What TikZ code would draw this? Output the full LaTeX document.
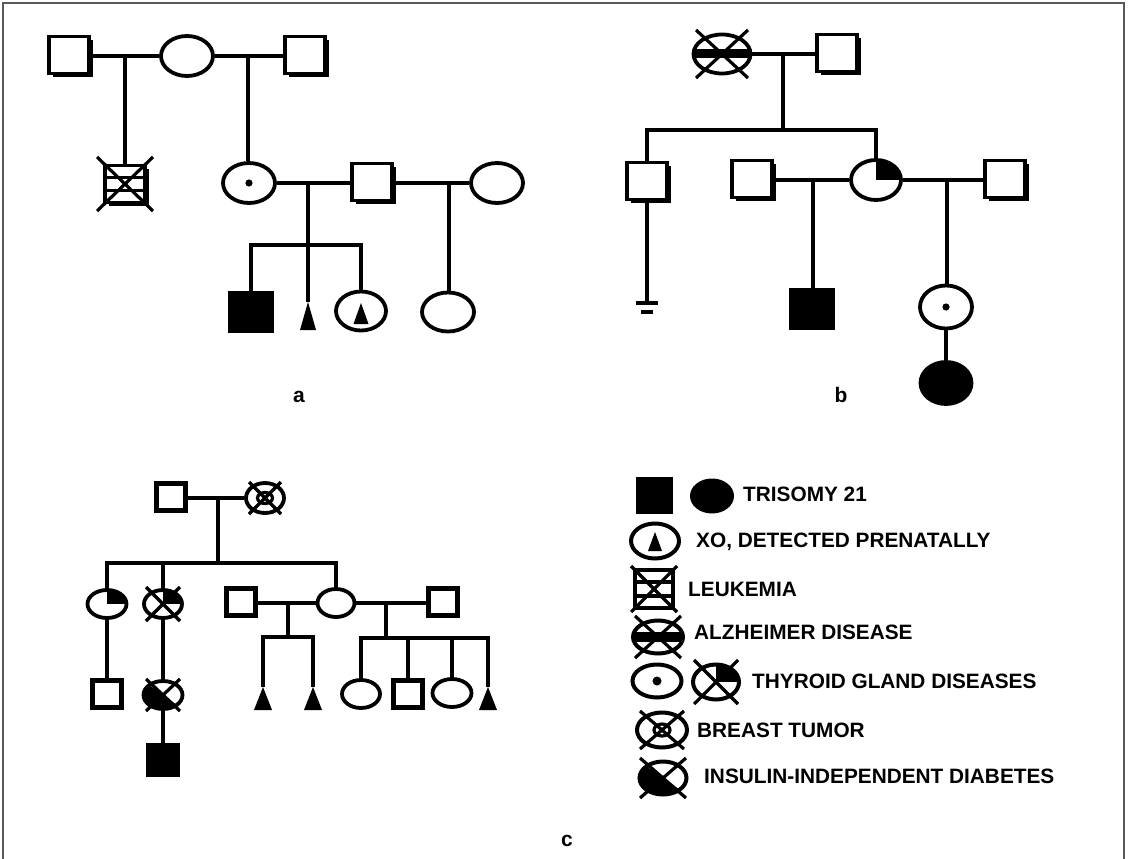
\documentclass[tikz,border=0pt]{standalone}
\usepackage{fontspec}
\setmainfont{Liberation Sans}
\usetikzlibrary{shapes.geometric,shadows,calc}
\newcommand\xcr[3]{\draw[xl] ($(#1)+(-#2,-#3)$) -- ($(#1)+(#2,#3)$); \draw[xl] ($(#1)+(#2,-#3)$) -- ($(#1)+(-#2,#3)$);}
\begin{document}
\begin{tikzpicture}[x=1pt,y=-1pt,
  ln/.style={line width=3.4pt},
  lnc/.style={line width=3.6pt},
  xl/.style={line width=3.2pt},
  sqbase/.style={rectangle,draw,fill=white,line width=3.6pt,inner sep=0pt},
  shad/.style={drop shadow={shadow xshift=3.5pt,shadow yshift=-3.5pt,fill=black,opacity=1}},
  sqA/.style={sqbase,shad,minimum width=40pt,minimum height=37pt},
  sqAf/.style={sqbase,fill=black,minimum width=42pt,minimum height=39pt},
  sqC/.style={sqbase,line width=4.2pt,drop shadow={shadow xshift=2pt,shadow yshift=-2pt,fill=black,opacity=1},minimum width=29pt,minimum height=27pt},
  sqCf/.style={sqbase,fill=black,minimum width=30pt,minimum height=30pt},
  elbase/.style={ellipse,draw,fill=white,line width=3.8pt,inner sep=0pt},
  elA/.style={elbase,minimum width=52pt,minimum height=40pt},
  elC/.style={elbase,line width=3.8pt,minimum width=37pt,minimum height=28pt},
  elL/.style={elbase,line width=4pt},
  filled/.style={fill=black},
  quarter/.style={path picture={\fill[black] (path picture bounding box.center) rectangle (path picture bounding box.north east);}},
  halfdiag/.style={path picture={\fill[black] (path picture bounding box.north west) -- (path picture bounding box.south west) -- (path picture bounding box.south east) -- cycle;}},
  band/.style={path picture={\fill[black] ([yshift=-#1]path picture bounding box.west) rectangle ([yshift=#1]path picture bounding box.east);}},
  lbl/.style={font=\fontsize{21}{24}\selectfont\bfseries,inner sep=0pt,anchor=base},
  txt/.style={font=\fontsize{20.8}{24}\selectfont\bfseries,inner sep=0pt,anchor=base west}
]
\useasboundingbox (0,0) rectangle (1130,859);
\draw[line width=1.5pt,black!65] (3,859) -- (3,3) -- (1124,3) -- (1124,859);

% ---------------- panel a ----------------
\node[sqA] (a1) at (69,55) {};
\node[elA] (a2) at (187,56) {};
\node[sqA] (a3) at (305,55) {};
\node[sqA] (a4) at (125,184) {};
\node[elA] (a5) at (249,183) {};
\node[sqA] (a6) at (372,182) {};
\node[elA] (a7) at (497,183) {};
\node[sqAf] (a8) at (251,312) {};
\node[elA,minimum width=50pt,minimum height=39pt] (a9) at (361,311) {};
\node[elA,minimum height=39pt] (a10) at (448,312) {};
\coordinate (ta) at (308,302);
\fill (ta) -- ++(8,28) -- ++(-16,0) -- cycle;
\fill ($(a9)+(0,-8)$) -- ++(7.5,21) -- ++(-15,0) -- cycle;
\fill (a5) circle (3.6pt);
\draw[ln] ($(a4.west)+(0,-6.5)$) -- ($(a4.east)+(0,-6.5)$);
\draw[ln] ($(a4.west)+(0,6.5)$) -- ($(a4.east)+(0,6.5)$);
\xcr{a4}{28}{27}
\coordinate (ja1) at (125,56);
\coordinate (ja2) at (248,56);
\coordinate (ja3) at (308,183);
\coordinate (sa) at (308,245);
\coordinate (ja4) at (449,183);
\draw[ln] (a1.east |- a2.west) -- (a2.west);
\draw[ln] (a2.east) -- (a2.east -| a3.west);
\draw[ln] (ja1) -- (a4.north);
\draw[ln] (ja2) -- (ja2 |- a5.north);
\draw[ln] (a5.east) -- (a5.east -| a6.west);
\draw[ln] (a6.east |- a7.west) -- (a7.west);
\draw[ln] (ja3) -- (sa);
\draw[ln] (a8.north) |- (sa) -| (a9.north);
\draw[ln] (sa) -- (ta);
\draw[ln] (ja4) -- (ja4 |- a10.north);
\node[lbl] (la) at (299,402) {a};

% ---------------- panel b ----------------
\node[elA,band=4.5pt,minimum width=57pt,minimum height=39pt] (b1) at (722,54) {};
\xcr{b1}{26}{24}
\node[sqA] (b2) at (837,53) {};
\node[sqA] (b3) at (647,181) {};
\node[sqA] (b4) at (752,179) {};
\node[elA,quarter,minimum width=50pt] (b5) at (876,180) {};
\node[sqAf] (b6) at (812,309) {};
\node[sqA] (b7) at (1005,179) {};
\node[elA,minimum width=52pt,minimum height=43pt] (b8) at (946,307) {};
\fill (b8) circle (3.6pt);
\node[elA,filled,minimum width=51pt,minimum height=42pt] (b9) at (946,383) {};
\coordinate (jb1) at (783,54);
\coordinate (sb) at (783,130);
\coordinate (gb) at (647,303);
\coordinate (jb2) at (813,180);
\coordinate (jb3) at (947,180);
\draw[ln] (b1.east) -- (b1.east -| b2.west);
\draw[ln] (jb1) -- (sb);
\draw[ln] (b3.north) |- (sb) -| (b5.north);
\draw[ln] (b3.south) -- (gb);
\draw[ln] ($(gb)+(-11,0)$) -- ($(gb)+(11,0)$);
\draw[line width=4pt] ($(gb)+(-6,9)$) -- ($(gb)+(6,9)$);
\draw[ln] (b4.east |- b5.west) -- (b5.west);
\draw[ln] (jb2) -- (jb2 |- b6.north);
\draw[ln] (b5.east) -- (b5.east -| b7.west);
\draw[ln] (jb3) -- (jb3 |- b8.north);
\draw[ln] (b8.south) -- (b9.north);
\node[lbl] (lb) at (841,402) {b};

% ---------------- panel c ----------------
\node[sqC] (c1) at (171,497) {};
\node[elC,minimum width=38pt,minimum height=30pt] (c2) at (265,498) {};
\node[ellipse,draw,line width=3.2pt,inner sep=0pt,minimum width=15pt,minimum height=11pt] (c2i) at (265,498) {};
\xcr{c2}{16}{16}
\node[elC,quarter,minimum width=39pt] (c3) at (107,604) {};
\node[elC,quarter,minimum width=38pt] (c4) at (163,604) {};
\xcr{c4}{17}{17}
\node[elC] (c5) at (336,603) {};
\node[sqC] (c6) at (241,602) {};
\node[sqC] (c7) at (443,602) {};
\node[elC,minimum width=38pt] (c8) at (361,694) {};
\node[sqC] (c9) at (408,694) {};
\node[elC,minimum width=39pt] (c10) at (452,693) {};
\node[sqC] (c11) at (107,694) {};
\node[elC,halfdiag,minimum width=39pt] (c12) at (163,695) {};
\xcr{c12}{17}{16}
\node[sqCf] (c13) at (163,760) {};
\coordinate (tc1) at (263,687);
\coordinate (tc2) at (313,687);
\coordinate (tc3) at (488,687);
\foreach \t in {tc1,tc2,tc3} {\fill (\t) -- ++(9,23) -- ++(-18,0) -- cycle;}
\coordinate (jc1) at (218,498);
\coordinate (sc1) at (218,563);
\coordinate (jc2) at (288,603);
\coordinate (sc2) at (288,637);
\coordinate (jc3) at (386,603);
\coordinate (sc3) at (386,638);
\draw[lnc] (c1.east |- c2.west) -- (c2.west);
\draw[lnc] (jc1) -- (sc1);
\draw[lnc] (c3.north) |- (sc1) -| (c5.north);
\draw[lnc] (sc1 -| c4.north) -- (c4.north);
\draw[lnc] (c6.east |- c5.west) -- (c5.west);
\draw[lnc] (c5.east) -- (c5.east -| c7.west);
\draw[lnc] (jc2) -- (sc2);
\draw[lnc] (tc1) |- (sc2) -| (tc2);
\draw[lnc] (jc3) -- (sc3);
\draw[lnc] (c8.north) |- (sc3) -| (tc3);
\draw[lnc] (sc3 -| c9.north) -- (c9.north);
\draw[lnc] (sc3 -| c10.north) -- (c10.north);
\draw[lnc] (c3.south) -- (c3.south |- c11.north);
\draw[lnc] (c4.south) -- (c12.north);
\draw[lnc] (c12.south) -- (c13.north);
\node[lbl] (lc) at (567,846) {c};

% ---------------- legend ----------------
\node[rectangle,fill=black,inner sep=0pt,minimum width=37pt,minimum height=37pt] (l1) at (654,495) {};
\node[ellipse,fill=black,inner sep=0pt,minimum width=44pt,minimum height=35pt] (l2) at (712,496) {};
\node[txt] (t1) at (743,501) {TRISOMY 21};
\node[elL,minimum width=48pt,minimum height=35pt] (l3) at (655,541) {};
\fill ($(l3)+(0,-9)$) -- ++(7,19) -- ++(-14,0) -- cycle;
\node[txt] (t2) at (696,547) {XO, DETECTED PRENATALLY};
\node[sqbase,line width=4pt,minimum width=38pt,minimum height=38pt] (l4) at (654,589) {};
\draw[ln] ($(l4.west)+(0,-7)$) -- ($(l4.east)+(0,-7)$);
\draw[ln] ($(l4.west)+(0,7)$) -- ($(l4.east)+(0,7)$);
\xcr{l4}{23}{23}
\node[txt] (t3) at (688,596) {LEUKEMIA};
\node[elL,band=5pt,minimum width=50pt,minimum height=33pt] (l5) at (658,637) {};
\xcr{l5}{23}{21}
\node[txt] (t4) at (694,639) {ALZHEIMER DISEASE};
\node[elL,minimum width=49pt,minimum height=33pt] (l6) at (657,681) {};
\fill (l6) circle (4.5pt);
\node[elL,quarter,minimum width=46pt,minimum height=35pt] (l7) at (716,682) {};
\xcr{l7}{22}{22}
\node[txt] (t5) at (752,688) {THYROID GLAND DISEASES};
\node[elL,minimum width=50pt,minimum height=35pt] (l8) at (662,730) {};
\node[ellipse,draw,line width=3.2pt,inner sep=0pt,minimum width=16pt,minimum height=12pt] (l8i) at (662,730) {};
\xcr{l8}{22}{19}
\node[txt] (t6) at (697,737) {BREAST TUMOR};
\node[elL,halfdiag,minimum width=47pt,minimum height=33pt] (l9) at (663,778) {};
\xcr{l9}{23}{20}
\node[txt] (t7) at (704,783) {INSULIN-INDEPENDENT DIABETES};
\end{tikzpicture}
\end{document}
